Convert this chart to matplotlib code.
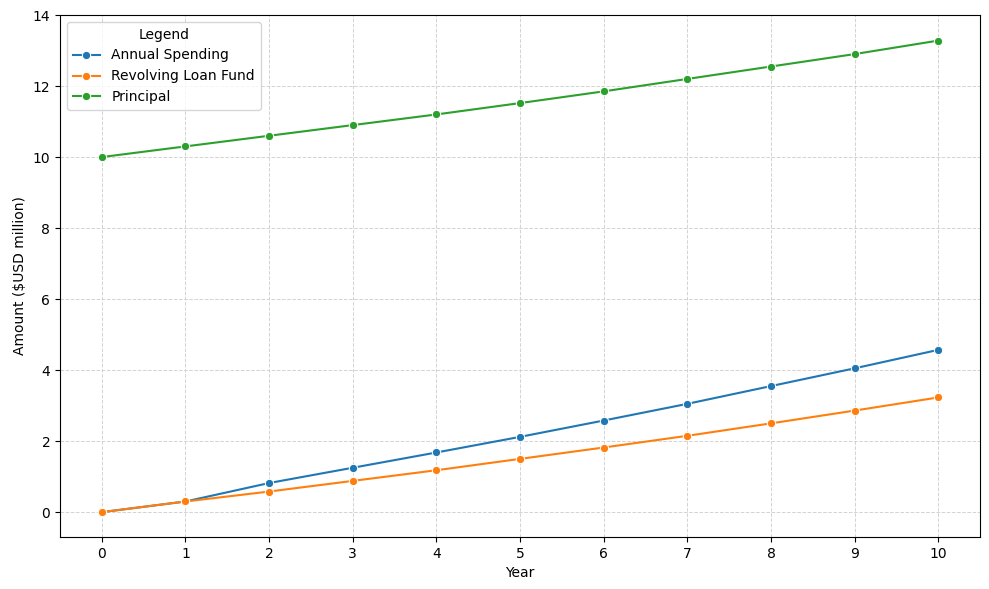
import matplotlib
matplotlib.use('Agg')
import matplotlib.pyplot as plt

years = list(range(11))
annual_spending = [0, 0.3, 0.82, 1.25, 1.68, 2.12, 2.58, 3.05, 3.55, 4.05, 4.57]
revolving_loan_fund = [0, 0.3, 0.58, 0.88, 1.18, 1.5, 1.82, 2.15, 2.5, 2.86, 3.23]
principal = [10, 10.3, 10.6, 10.9, 11.2, 11.52, 11.85, 12.2, 12.55, 12.9, 13.28]

fig, ax = plt.subplots(figsize=(9.89, 5.89), dpi=100)
for vals, name in [(annual_spending, 'Annual Spending'),
                   (revolving_loan_fund, 'Revolving Loan Fund'),
                   (principal, 'Principal')]:
    ax.plot(years, vals, marker='o', markersize=6, markeredgecolor='white',
            markeredgewidth=0.75, label=name)

ax.set_xticks(years)
ax.set_ylim(-0.7, 14)
ax.set_xlabel('Year')
ax.set_ylabel('Amount ($USD million)')
ax.grid(True, linestyle='--', color='lightgray', linewidth=0.7)
ax.legend(title='Legend', loc='upper left')

plt.subplots_adjust(left=0.0607, right=0.991, top=0.9745, bottom=0.0883)
plt.savefig('out.png')
